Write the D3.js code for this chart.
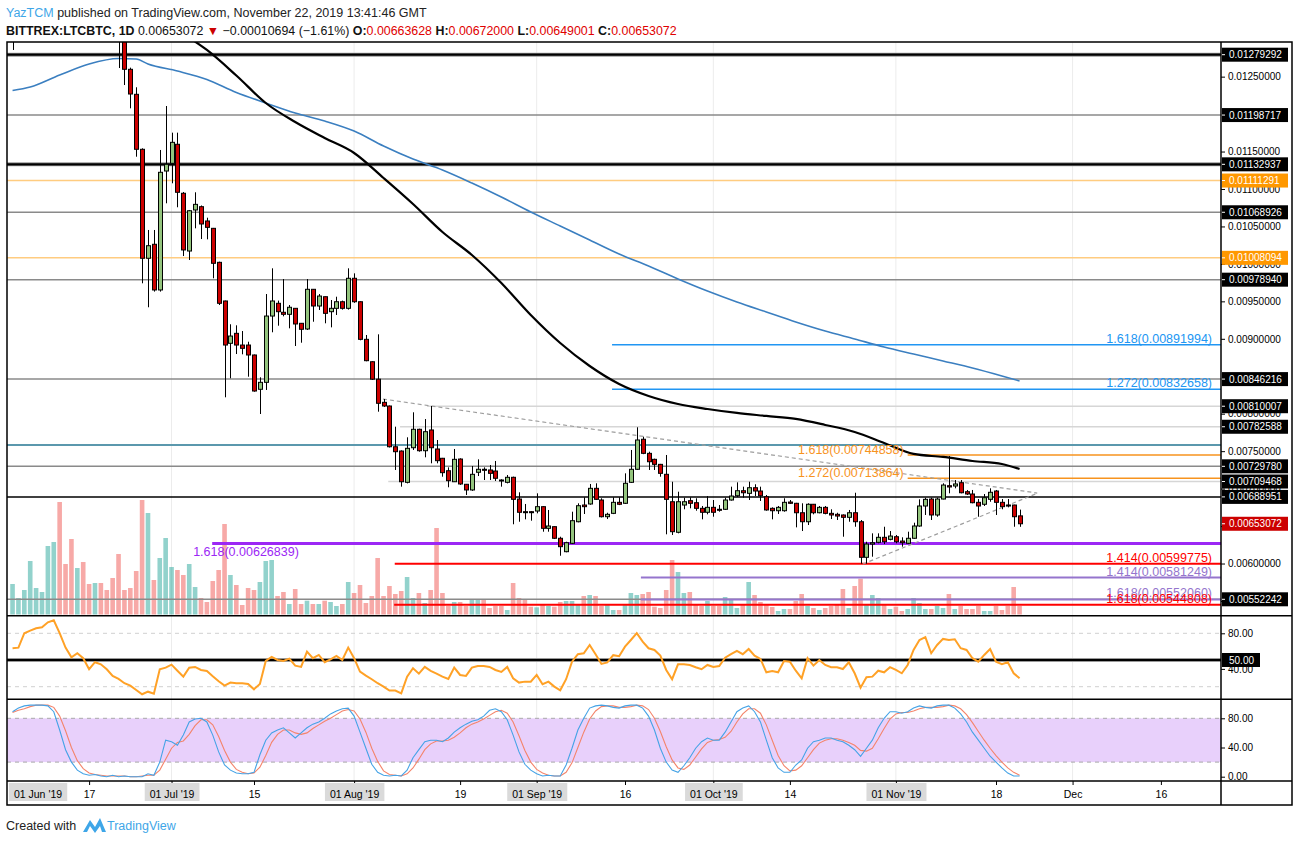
<!DOCTYPE html>
<html><head><meta charset="utf-8">
<script src="https://cdn.jsdelivr.net/npm/d3@7"></script>
<style>
body{margin:0;background:#fff;}
svg{display:block;font-family:"Liberation Sans",Arial,sans-serif;}
</style></head><body>
<svg id="c" width="1294" height="842"></svg>
<script>
// ---------------- DATA ----------------
const firstDay = "2019-06-04"; // daily candles, consecutive days
const opens = [0.01300,0.01330,0.01360,0.01375,0.01410,0.01420,0.01430,0.01480,0.01515,0.01455,0.01430,0.01390,0.01410,
0.01380,0.01360,0.01375,0.01355,0.01340,0.01320,0.01310,0.012598,0.012264,0.011530,
0.010075,0.010262,0.009652,0.011240,0.011343,0.011597,0.010943,0.010172,0.010720,0.010764,
0.010573,0.010475,0.010021,0.009505,0.008940,0.009073,0.008917,0.008917,0.008784,0.008326,
0.008419,0.009304,0.009474,0.009354,0.009327,0.009407,0.009207,0.009131,0.009661,0.009438,
0.009562,0.009362,0.009407,0.009495,0.009407,0.009808,0.009495,0.008993,0.008694,0.008461,
0.008152,0.008103,0.007559,0.007502,0.007084,0.007546,0.007792,0.007506,0.007783,0.007529,
0.007405,0.007239,0.007092,0.007395,0.007058,0.006982,0.007218,0.007258,0.007249,0.007235,
0.007115,0.007084,0.007151,0.006861,0.006692,0.006692,0.006701,0.006759,0.006470,0.006492,
0.006337,0.006158,0.006270,0.006558,0.006781,0.006795,0.007004,0.006848,0.006625,0.006670,
0.006817,0.006804,0.007084,0.007258,0.007659,0.007471,0.007391,0.007324,0.007191,0.006825,
0.006417,0.006781,0.006839,0.006812,0.006737,0.006684,0.006750,0.006724,0.006724,0.006848,
0.006905,0.006972,0.006937,0.007012,0.006968,0.006892,0.006737,0.006705,0.006705,0.006821,
0.006804,0.006678,0.006558,0.006791,0.006678,0.006750,0.006670,0.006657,0.006648,0.006617,
0.006678,0.006558,0.006083,0.006260,0.006283,0.006350,0.006323,0.006358,0.006300,0.006270,
0.006337,0.006501,0.006768,0.006861,0.006648,0.006861,0.007039,0.007035,0.007079,0.006959,
0.006928,0.006817,0.006791,0.006857,0.006968,0.006817,0.006781,0.006781,0.00663628];
const highs = [0.01345,0.01370,0.01385,0.01420,0.01430,0.01440,0.01490,0.01530,0.01525,0.01465,0.01440,0.01420,0.01415,
0.01385,0.01390,0.01380,0.01360,0.01345,0.01330,0.01318,0.01262,0.012358,0.011543,
0.010453,0.010453,0.011521,0.012108,0.011752,0.011752,0.010960,0.010720,0.010956,0.010780,
0.010617,0.010480,0.010030,0.009510,0.009194,0.009180,0.009104,0.008961,0.008790,0.008486,
0.009598,0.009941,0.009510,0.009798,0.009451,0.009410,0.009210,0.009798,0.009665,0.009598,
0.009565,0.009518,0.009562,0.009510,0.009941,0.009874,0.009500,0.009051,0.008700,0.009060,
0.008196,0.008110,0.007827,0.007510,0.007685,0.008019,0.007800,0.007929,0.008103,0.007649,
0.007410,0.007284,0.007529,0.007405,0.007062,0.007302,0.007391,0.007284,0.007315,0.007369,
0.007125,0.007182,0.007160,0.006951,0.006795,0.006700,0.006937,0.006765,0.006715,0.006495,
0.006358,0.006291,0.006692,0.006804,0.006884,0.007062,0.007071,0.006871,0.006678,0.006884,
0.006884,0.007204,0.007516,0.007819,0.007693,0.007493,0.007400,0.007330,0.007449,0.007092,
0.006959,0.006879,0.006884,0.006871,0.006768,0.006901,0.006848,0.006781,0.006879,0.007026,
0.007084,0.007026,0.007092,0.007058,0.007026,0.006915,0.006750,0.006768,0.006871,0.006848,
0.006810,0.006804,0.006804,0.006795,0.006768,0.006768,0.006724,0.006678,0.006655,0.006715,
0.006945,0.006581,0.006291,0.006403,0.006403,0.006491,0.006434,0.006381,0.006350,0.006425,
0.006545,0.006857,0.006879,0.006879,0.006879,0.007071,0.007435,0.007115,0.007115,0.006982,
0.006982,0.006861,0.006928,0.007004,0.006982,0.006861,0.006861,0.006785,0.00672];
const lows = [0.012856,0.01320,0.01350,0.01365,0.01395,0.01405,0.01420,0.01470,0.01440,0.01420,0.01380,0.01380,0.01370,
0.01350,0.01350,0.01350,0.01330,0.01315,0.012615,0.012388,0.012077,0.011431,0.009741,
0.009421,0.009630,0.009630,0.010809,0.011076,0.010756,0.010105,0.010052,0.010475,0.010332,
0.010328,0.009808,0.009451,0.008219,0.008473,0.008797,0.008793,0.008494,0.008294,0.007996,
0.008317,0.009087,0.009175,0.009300,0.009140,0.008904,0.008948,0.009118,0.009228,0.009385,
0.009207,0.009153,0.009318,0.009390,0.009390,0.009480,0.008980,0.008700,0.008450,0.008027,
0.008090,0.007549,0.007249,0.007026,0.007070,0.007516,0.007493,0.007418,0.007338,0.007338,
0.007159,0.007018,0.007092,0.007050,0.006915,0.006970,0.007168,0.007115,0.007115,0.007102,
0.007026,0.007070,0.006524,0.006558,0.006590,0.006572,0.006670,0.006425,0.006425,0.006327,
0.006104,0.006150,0.006260,0.006550,0.006661,0.006785,0.006850,0.006615,0.006594,0.006660,
0.006780,0.006795,0.007075,0.007250,0.007460,0.007249,0.007249,0.007159,0.006390,0.006381,
0.006403,0.006724,0.006737,0.006705,0.006590,0.006657,0.006625,0.006692,0.006715,0.006840,
0.006888,0.006879,0.006848,0.006901,0.006835,0.006705,0.006590,0.006661,0.006692,0.006795,
0.006483,0.006434,0.006514,0.006657,0.006670,0.006657,0.006594,0.006581,0.006358,0.006558,
0.006491,0.005998,0.005998,0.006091,0.006270,0.006260,0.006310,0.006270,0.006225,0.006260,
0.006330,0.006491,0.006648,0.006581,0.006625,0.006857,0.006937,0.007004,0.006937,0.006915,
0.006804,0.006625,0.006768,0.006825,0.006648,0.006724,0.006750,0.006491,0.00649001];
const closes = [0.01330,0.01360,0.01375,0.01410,0.01420,0.01430,0.01480,0.01515,0.01455,0.01430,0.01390,0.01410,0.01380,
0.01360,0.01375,0.01355,0.01340,0.01320,0.01310,0.012598,0.012268,0.011530,0.010075,
0.010243,0.009652,0.011223,0.011330,0.011623,0.010956,0.010186,0.010710,0.010795,0.010533,
0.010488,0.010008,0.009474,0.008917,0.009037,0.008917,0.008873,0.008784,0.008303,0.008419,
0.009304,0.009505,0.009362,0.009327,0.009421,0.009198,0.009127,0.009661,0.009438,0.009571,
0.009340,0.009407,0.009495,0.009407,0.009808,0.009495,0.008993,0.008708,0.008461,0.008139,
0.008103,0.007559,0.007493,0.007092,0.007538,0.007792,0.007506,0.007760,0.007546,0.007373,
0.007213,0.007106,0.007391,0.007062,0.006982,0.007191,0.007258,0.007245,0.007204,0.007138,
0.007102,0.007151,0.006857,0.006684,0.006679,0.006679,0.006759,0.006470,0.006501,0.006337,
0.006225,0.006278,0.006572,0.006772,0.006759,0.007004,0.006857,0.006625,0.006657,0.006817,
0.006791,0.007071,0.007258,0.007649,0.007471,0.007359,0.007324,0.007204,0.006857,0.006425,
0.006825,0.006825,0.006804,0.006737,0.006684,0.006750,0.006684,0.006715,0.006848,0.006901,
0.006972,0.006945,0.007012,0.006968,0.006905,0.006715,0.006705,0.006750,0.006817,0.006804,
0.006678,0.006558,0.006791,0.006678,0.006750,0.006670,0.006648,0.006634,0.006617,0.006678,
0.006558,0.006083,0.006260,0.006278,0.006350,0.006291,0.006367,0.006291,0.006278,0.006337,
0.006501,0.006768,0.006857,0.006648,0.006861,0.007048,0.007022,0.007062,0.006945,0.006928,
0.006812,0.006768,0.006879,0.006951,0.006817,0.006759,0.006768,0.006625,0.00653072];
// volume (thousand LTC, relative)
const volumes = [30.5,16.5,24.5,53.5,26.5,22.5,68.5,72.5,112.5,50.5,75.5,46.5,52.5,
30.5,31.5,31.5,24.5,36.5,60.5,24.5,26.5,43.5,114.5,
101.5,34.5,56.5,76.5,47.5,44.5,39.5,50.5,27.5,16.5,
12.5,33.5,44.5,90.5,39.5,29.5,9.5,26.5,24.5,32.5,
53.5,54.5,18.5,22.5,10.5,25.5,10.5,13.8,10.5,10.5,
13.8,12.5,8.5,10.5,32.5,21.5,29.5,11.5,18.5,56.5,
18.5,28.5,20.5,23.5,37.5,16.5,21.5,11.5,24.5,86.5,
21.5,8.5,12.5,12.5,8.5,14.5,14.5,15.5,6.5,8.5,
8.5,4.5,31.5,16.5,15.2,7.8,7.2,10.5,8.5,7.8,
12.5,13.5,13.5,10.5,18.5,19.5,18.5,8.5,10.5,4.5,
4.5,10.5,21.5,19.5,20.5,22.5,7.8,6.5,24.5,54.5,
42.5,21.5,22.5,10.5,8.5,13.5,8.5,8.5,17.5,14.5,
6.5,10.5,32.5,19.5,12.5,10.5,7.5,3.5,5.5,5.5,
13.5,20.5,8.5,6.5,4.5,6.5,8.5,10.5,25.5,6.5,
28.5,35.8,10.5,19.5,16.5,10.5,5.5,7.8,3.5,5.5,
16.5,11.5,5.5,5.5,8.5,6.5,20.5,5.5,8.5,5.5,
5.5,8.5,3.5,3.5,8.5,4.5,8.5,27.5,8.5];
const rsi = [63.2,63.9,80.1,83.0,85.7,86.8,92.4,94.7,80.1,63.9,53.1,57.6,52.0,39.6,
47.5,45.2,39.6,32.1,28.7,23.9,21.2,16.3,11.5,14.4,12.2,39.6,41.4,44.8,38.0,31.3,41.4,42.2,38.8,37.7,
31.7,26.1,21.2,24.6,23.9,23.9,23.1,17.1,23.1,48.9,53.4,50.0,48.9,51.5,43.7,42.2,59.4,52.0,55.7,47.5,
50.8,54.6,50.0,63.9,52.0,36.9,32.4,28.4,23.9,20.1,15.6,15.6,12.6,31.3,40.7,34.7,42.2,37.7,34.7,31.3,
28.7,41.4,33.2,32.1,41.4,43.3,43.3,42.2,38.8,36.6,42.2,29.5,24.6,25.7,25.7,33.2,22.8,25.7,20.1,16.0,
28.4,48.1,56.5,57.6,66.9,56.5,45.6,47.3,55.4,54.3,65.0,72.5,80.1,70.6,63.2,61.3,54.9,38.8,28.4,45.2,
45.2,44.4,41.9,39.6,44.4,42.2,43.3,52.6,56.5,60.2,56.5,62.4,54.9,51.2,36.2,37.7,36.2,48.9,48.1,38.0,
29.5,52.0,43.7,50.0,44.4,41.9,41.9,39.9,47.5,35.1,18.9,30.6,31.3,38.0,36.2,41.9,38.8,35.1,44.4,61.3,
72.5,75.6,57.6,66.9,73.7,72.5,73.3,63.2,61.3,52.0,48.1,55.7,62.4,48.1,45.2,47.5,35.1,29.5];
const stochK = [89,94,97,98,98,98,97,89,64,37,20,9,4,2,
3,1,0,2,0,1,0,0,0,4,2,20,
50,48,43,57,75,79,80,75,57,34,16,9,5,4,4,6,
30,50,60,64,67,60,53,60,67,72,75,80,86,90,93,94,
83,61,39,17,6,2,1,2,1,9,
26,37,48,50,50,48,53,61,67,72,76,78,83,91,93,89,78,57,
34,17,9,4,1,2,1,1,
16,39,64,80,94,97,98,97,95,94,97,98,98,94,83,64,39,20,9,6,
15,26,39,48,53,50,50,61,75,89,94,97,89,75,50,26,12,6,6,
16,23,39,48,50,53,53,50,48,43,37,28,39,50,
67,80,89,89,87,89,94,97,95,94,97,98,98,94,
86,75,61,50,39,28,20,12,5,1,1];
const stochD = [88,91,93,96,98,98,98,95,83,63,40,22,11,5,
3,2,1,1,1,1,0,0,1,2,2,9,
24,39,47,49,58,70,78,78,71,55,36,20,10,6,4,5,
13,29,47,58,64,64,60,58,60,66,71,76,80,85,90,92,
90,79,61,39,21,8,3,2,1,4,
12,24,37,45,49,49,50,54,60,67,72,75,79,84,89,91,87,75,
56,36,20,10,5,2,1,1,
6,19,40,61,79,90,96,97,97,95,95,96,98,97,92,80,62,41,23,12,
10,16,27,38,47,50,51,54,62,75,86,93,93,87,71,50,29,15,8,
9,15,26,37,46,50,52,52,50,47,43,36,35,39,
52,66,79,86,88,88,90,93,95,95,95,96,98,97,
93,85,74,62,50,39,29,20,12,6,2];
// moving averages read at sampled candles (day offset from 17 Jun 2019, price)
const maBlackDay = [17,20,25,30,35,40,45,50,55,60,65,70,75,80,85,90,95,100,105,110,115,120,125,130,135,140,145,150,155,158];
const maBlackVal = [0.01302,0.012856,0.012515,0.012148,0.011894,0.011681,0.011481,0.011147,0.010800,0.010426,0.010119,0.009745,0.009318,0.008944,0.008637,0.008397,0.008237,0.008130,0.008063,0.008010,0.007970,0.007930,0.007850,0.007756,0.007610,0.007463,0.007423,0.007369,0.007329,0.007262];
const maBlueDay = [-13,-10,-5,0,5,8,10,15,20,25,30,35,40,45,50,55,60,65,70,75,80,85,90,95,100,105,110,115,120,125,130,135,140,145,150,155,158];
const maBlueVal = [0.012315,0.012362,0.012522,0.012669,0.012742,0.012735,0.012669,0.012575,0.012462,0.012288,0.012148,0.012015,0.011908,0.011774,0.011574,0.011400,0.011254,0.011080,0.010893,0.010693,0.010506,0.010319,0.010132,0.009972,0.009799,0.009638,0.009492,0.009358,0.009225,0.009104,0.008998,0.008891,0.008797,0.008704,0.008610,0.008504,0.008437];
// horizontal levels
const levelValues = [0.01279292,0.01198717,0.01132937,0.01111291,0.01068926,0.01008094,0.00978940,0.00846216,0.00810007,0.00782588,0.00758200,0.00729780,0.00709468,0.00688951,0.00552242];
const levelKinds  = ['major','grey','major','orange','grey','orange','grey','grey','light','light','teal','grey','light','black','grey'];
const levelStartDay = [null,null,null,null,null,null,null,null,57.4,52.8,null,null,50.8,null,null];
// fibonacci levels
const fibRatio = ['1.618','1.272','1.618','1.272','1.618','1.414','1.414','1.618','1.618'];
const fibValue = [0.00891994,0.00832658,0.00744858,0.00713864,0.00626839,0.00599775,0.00581249,0.00552060,0.00544808];
const fibKind  = ['blue','blue','orange','orange','purple','red','lilac','lilac','red'];
const fibStartDay = [88.8,88.8,139.0,139.0,20.9,51.9,93.7,93.7,51.8];
// trend lines [day, price]
const trendDown = [[49.9,0.008196],[161.0,0.006941]];
const trendUp = [[131.4,0.005993],[161.0,0.006937]];
// axis
const priceTicks = [0.0125,0.0115,0.011,0.0105,0.01,0.0095,0.009,0.008,0.0075,0.007,0.0065,0.006,0.0055];
const boxValues = [0.01279292,0.01198717,0.01132937,0.01111291,0.01068926,0.01008094,0.00978940,0.00846216,0.00810007,0.00782588,0.00729780,0.00709468,0.00688951,0.00653072,0.00552242];
const boxKinds = ['k','k','k','o','k','o','k','k','k','k','k','k','k','r','k'];
const xTickDates = ["2019-06-01","2019-06-17","2019-07-01","2019-07-15","2019-08-01","2019-08-19","2019-09-01","2019-09-16","2019-10-01","2019-10-14","2019-11-01","2019-11-18","2019-12-01","2019-12-16"];
const xTickLabels = ["01 Jun '19","17","01 Jul '19","15","01 Aug '19","19","01 Sep '19","16","01 Oct '19","14","01 Nov '19","18","Dec","16"];
const monthStarts = ["2019-07-01","2019-08-01","2019-09-01","2019-10-01","2019-11-01","2019-12-01"];

// ---------------- LAYOUT ----------------
const L=7, R=1221, RA=1292, T=42, MB=615.7, RB=699.3, SB=781, XB=805;
const svg = d3.select('#c');
svg.append('rect').attr('width',1294).attr('height',842).attr('fill','#fff');
const defs = svg.append('defs');
[['cm',T,MB],['cr',MB,RB],['cs',RB,SB]].forEach(([id,a,b])=>{
  defs.append('clipPath').attr('id',id).append('rect').attr('x',L).attr('y',a).attr('width',R-L).attr('height',b-a);
});
const day0 = Date.UTC(2019,5,17);
const dayToDate = d => new Date(day0 + d*864e5);
const xs = d3.scaleUtc().domain([new Date(day0), new Date(Date.UTC(2019,11,16))]).range([89.1,1160.9]);
const ys = d3.scaleLinear().domain([0.00552242,0.01279292]).range([599.3,54.7]);
const vs = d3.scaleLinear().domain([0,114.5]).range([614.5,500]);
const rs = d3.scaleLinear().domain([50,80]).range([660,633.3]);
const ss = d3.scaleLinear().domain([0,80]).range([776.7,718.3]);
const pd = s => new Date(s+"T00:00:00Z");
const start = pd(firstDay);
const candles = opens.map((o,i)=>({t:new Date(start.getTime()+i*864e5),o,h:highs[i],l:lows[i],c:closes[i],v:volumes[i],r:rsi[i],k:stochK[i],dd:stochD[i]}));

const GREEN='#93c47d', RED='#cc0000';

// grid (month starts)
svg.append('g').selectAll('line').data(monthStarts.map(pd)).join('line')
  .attr('x1',d=>xs(d)).attr('x2',d=>xs(d)).attr('y1',T).attr('y2',SB)
  .attr('stroke','#ececec').attr('stroke-width',1);

// stoch band
svg.append('rect').attr('x',L).attr('width',R-L).attr('y',ss(80)).attr('height',ss(20)-ss(80)).attr('fill','#e8d0fb');

// ---------------- MAIN PANEL ----------------
const gm = svg.append('g').attr('clip-path','url(#cm)');
// volume
gm.append('g').selectAll('rect').data(candles).join('rect')
  .attr('x',d=>xs(d.t)-2.3).attr('width',4.6)
  .attr('y',d=>vs(d.v)).attr('height',d=>vs(0)-vs(d.v))
  .attr('fill',d=>d.c>=d.o?'rgba(38,166,154,0.5)':'rgba(239,83,80,0.5)');

const levelStyle = {
  major:{s:'#000',w:2.2,halo:true}, grey:{s:'#8a8a8a',w:1.5}, orange:{s:'#ffcc80',w:1.5},
  light:{s:'#d6d6d6',w:1.5}, teal:{s:'#5b98ad',w:2}, black:{s:'#000',w:1.5}
};
const gl = gm.append('g');
levelValues.forEach((v,i)=>{
  const st = levelStyle[levelKinds[i]];
  const x1 = levelStartDay[i]==null ? L : xs(dayToDate(levelStartDay[i]));
  if(st.halo) gl.append('line').attr('x1',x1).attr('x2',R).attr('y1',ys(v)).attr('y2',ys(v)).attr('stroke','#9a9a9a').attr('stroke-width',4);
  gl.append('line').attr('x1',x1).attr('x2',R).attr('y1',ys(v)).attr('y2',ys(v)).attr('stroke',st.s).attr('stroke-width',st.w);
});
const fibStyle = {
  blue:{s:'#2196f3',t:'#2196f3',w:1.5}, orange:{s:'#f7931e',t:'#f7931e',w:1.5},
  purple:{s:'#9c27f5',t:'#9c27f5',w:3}, red:{s:'#ff0000',t:'#ff0000',w:2}, lilac:{s:'#9575cd',t:'#9575cd',w:2}
};
fibValue.forEach((v,i)=>{
  const st = fibStyle[fibKind[i]];
  gl.append('line').attr('x1',xs(dayToDate(fibStartDay[i]))).attr('x2',R).attr('y1',ys(v)).attr('y2',ys(v)).attr('stroke',st.s).attr('stroke-width',st.w);
});

// moving averages
const lineGen = d3.line().curve(d3.curveMonotoneX);
gm.append('path').attr('d',lineGen(maBlueDay.map((d,i)=>[xs(dayToDate(d)),ys(maBlueVal[i])])))
  .attr('fill','none').attr('stroke','#3b7fc0').attr('stroke-width',1.6);
gm.append('path').attr('d',lineGen(maBlackDay.map((d,i)=>[xs(dayToDate(d)),ys(maBlackVal[i])])))
  .attr('fill','none').attr('stroke','#000').attr('stroke-width',2.2);

// trend lines
[trendDown,trendUp].forEach(tl=>{
  gm.append('line').attr('x1',xs(dayToDate(tl[0][0]))).attr('y1',ys(tl[0][1]))
    .attr('x2',xs(dayToDate(tl[1][0]))).attr('y2',ys(tl[1][1]))
    .attr('stroke','#9e9e9e').attr('stroke-width',1.2).attr('stroke-dasharray','4,3');
});

// candles
const gc = gm.append('g');
gc.selectAll('line').data(candles).join('line')
  .attr('x1',d=>Math.round(xs(d.t))+0.5).attr('x2',d=>Math.round(xs(d.t))+0.5)
  .attr('y1',d=>ys(d.h)).attr('y2',d=>ys(d.l)).attr('stroke','#000').attr('stroke-width',1);
gc.selectAll('rect').data(candles).join('rect')
  .attr('x',d=>Math.round(xs(d.t))-1.5).attr('width',4)
  .attr('y',d=>ys(Math.max(d.o,d.c))).attr('height',d=>Math.max(1,Math.abs(ys(d.o)-ys(d.c))))
  .attr('fill',d=>d.c>=d.o?GREEN:RED).attr('stroke','#000').attr('stroke-width',1);

// fib labels
const gt = svg.append('g').style('font-size','12.5px');
fibValue.forEach((v,i)=>{
  const k = fibKind[i], st = fibStyle[k];
  const txt = fibRatio[i]+'('+v.toFixed(8)+')';
  let x, y, anchor;
  if(k==='orange'){ x = xs(dayToDate(fibStartDay[i]))-4; y = ys(v)-1; anchor='end'; }
  else if(k==='purple'){ x = xs(dayToDate(fibStartDay[i]))-19; y = ys(v)+13; anchor='start'; }
  else { x = 1212; y = ys(v)-2; anchor='end'; }
  gt.append('text').attr('x',x).attr('y',y).attr('text-anchor',anchor).attr('fill',st.t).text(txt);
});

// ---------------- RSI ----------------
const gr = svg.append('g').attr('clip-path','url(#cr)');
[80,20].forEach(v=>gr.append('line').attr('x1',L).attr('x2',R).attr('y1',rs(v)).attr('y2',rs(v))
  .attr('stroke','#d0d0d0').attr('stroke-dasharray','4,4'));
gr.append('line').attr('x1',L).attr('x2',R).attr('y1',rs(50)).attr('y2',rs(50)).attr('stroke','#9a9a9a').attr('stroke-width',4);
gr.append('line').attr('x1',L).attr('x2',R).attr('y1',rs(50)).attr('y2',rs(50)).attr('stroke','#000').attr('stroke-width',2);
gr.append('path').attr('d',d3.line().x(d=>xs(d.t)).y(d=>rs(d.r))(candles))
  .attr('fill','none').attr('stroke','#ffa126').attr('stroke-width',2);

// ---------------- STOCH RSI ----------------
const gs = svg.append('g').attr('clip-path','url(#cs)');
[80,20].forEach(v=>gs.append('line').attr('x1',L).attr('x2',R).attr('y1',ss(v)).attr('y2',ss(v))
  .attr('stroke','#a8a8a8').attr('stroke-dasharray','4,4'));
gs.append('path').attr('d',d3.line().x(d=>xs(d.t)).y(d=>ss(d.dd))(candles))
  .attr('fill','none').attr('stroke','#f4846b').attr('stroke-width',1.1);
gs.append('path').attr('d',d3.line().x(d=>xs(d.t)).y(d=>ss(d.k))(candles))
  .attr('fill','none').attr('stroke','#45a3e6').attr('stroke-width',1.1);

// ---------------- AXES ----------------
const fmt8 = d3.format('.8f');
const AXF = '10px';
const ax = svg.append('g').attr('transform',`translate(${R},0)`)
  .call(d3.axisRight(ys).tickValues(priceTicks).tickFormat(fmt8).tickSize(4).tickPadding(3));
ax.select('.domain').remove();
ax.selectAll('text').style('font-size',AXF).style('font-family','"Liberation Sans",Arial,sans-serif').attr('fill','#000');
ax.selectAll('line').attr('stroke','#000');
const boxBg = {k:'#000',o:'#ff9800',r:'#cc0000'};
const gb = svg.append('g');
boxValues.forEach((v,i)=>{
  const yy = ys(v);
  gb.append('rect').attr('x',R+1).attr('y',yy-7).attr('width',66).attr('height',14).attr('fill',boxBg[boxKinds[i]]);
  gb.append('line').attr('x1',R).attr('x2',R+4).attr('y1',yy).attr('y2',yy).attr('stroke','#fff');
  gb.append('text').attr('x',R+8).attr('y',yy).attr('dy','0.35em').attr('fill','#fff').style('font-size',AXF).text(fmt8(v));
});
// RSI axis
const axr = svg.append('g').attr('transform',`translate(${R},0)`)
  .call(d3.axisRight(rs).tickValues([80,40]).tickFormat(d3.format('.2f')).tickSize(4).tickPadding(3));
axr.select('.domain').remove();
axr.selectAll('text').style('font-size',AXF).attr('fill','#000');
svg.append('rect').attr('x',R+1).attr('y',rs(50)-7).attr('width',38).attr('height',14).attr('fill','#000');
svg.append('text').attr('x',R+8).attr('y',rs(50)).attr('dy','0.35em').attr('fill','#fff').style('font-size',AXF).text('50.00');
const axs = svg.append('g').attr('transform',`translate(${R},0)`)
  .call(d3.axisRight(ss).tickValues([80,40,0]).tickFormat(d3.format('.2f')).tickSize(4).tickPadding(3));
axs.select('.domain').remove();
axs.selectAll('text').style('font-size',AXF).attr('fill','#000');

// X axis
const xdates = xTickDates.map(pd);
const axx = svg.append('g').attr('transform',`translate(0,${SB})`)
  .call(d3.axisBottom(xs).tickValues(xdates).tickFormat((d,i)=>xTickLabels[i]).tickSize(4).tickPadding(6));
axx.select('.domain').remove();
axx.selectAll('text').style('font-size','10.5px').attr('fill','#000');
axx.selectAll('.tick').each(function(d,i){
  const g = d3.select(this);
  if(i===0){ g.attr('transform','translate(38,0)'); g.select('line').remove(); }
  if(xTickLabels[i].length>4){
    const t = g.select('text').node().getBBox();
    g.insert('rect','text').attr('x',t.x-5).attr('y',2).attr('width',t.width+10).attr('height',18).attr('fill','#dadada');
  }
});

// frames
const fr = svg.append('g').attr('stroke','#000').attr('stroke-width',1.5).attr('fill','none');
fr.append('rect').attr('x',L).attr('y',T).attr('width',RA-L).attr('height',XB-T);
[MB,RB,SB].forEach(y=>fr.append('line').attr('x1',L).attr('x2',RA).attr('y1',y).attr('y2',y));
fr.append('line').attr('x1',R).attr('x2',R).attr('y1',T).attr('y2',XB);

// ---------------- HEADER / FOOTER ----------------
const h1 = svg.append('text').attr('x',6).attr('y',17).style('font-size','12.5px').attr('fill','#222');
h1.append('tspan').attr('fill','#3ea6e8').text('YazTCM');
h1.append('tspan').text(' published on TradingView.com, November 22, 2019 13:41:46 GMT');
const h2 = svg.append('text').attr('x',6).attr('y',35).style('font-size','12.4px').attr('fill','#111');
h2.append('tspan').attr('font-weight','bold').text('BITTREX:LTCBTC, 1D');
h2.append('tspan').text(' 0.00653072 ');
h2.append('tspan').attr('fill','#cc0000').text('\u25BC');
h2.append('tspan').text(' \u22120.00010694 (\u22121.61%) ');
[['O:','0.00663628'],['H:','0.00672000'],['L:','0.00649001'],['C:','0.00653072']].forEach(([a,b],i)=>{
  h2.append('tspan').attr('font-weight','bold').text((i?' ':'')+a);
  h2.append('tspan').attr('fill','#e00000').text(b);
});
const f = svg.append('g');
f.append('text').attr('x',6).attr('y',830).style('font-size','12.5px').attr('fill','#222').text('Created with');
f.append('path').attr('d','M83,832 L90,820 L95,827 L100,818 L106,832 L102,832 L100,826 L95,833 L90,826 L87,832 Z').attr('fill','#3ea6e8');
f.append('text').attr('x',107).attr('y',830).style('font-size','12.5px').attr('fill','#3ea6e8').text('TradingView');
</script></body></html>
